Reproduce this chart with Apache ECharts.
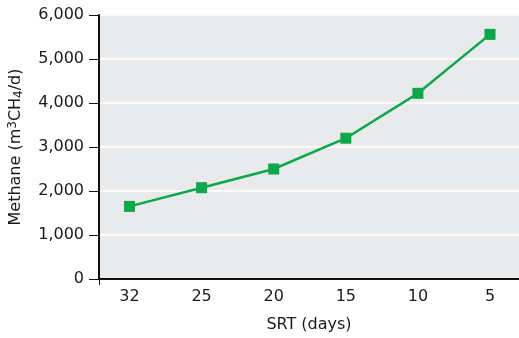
<!DOCTYPE html>
<html>
<head>
<meta charset="utf-8">
<script src="https://cdn.jsdelivr.net/npm/echarts@6/dist/echarts.min.js"></script>
<style>html,body{margin:0;padding:0;background:#fff}#c{width:519px;height:338px}</style>
</head>
<body>
<div id="c"></div>
<script>
var categories = ['32', '25', '20', '15', '10', '5'];
var methane = [1650, 2075, 2500, 3200, 4220, 5560];
var yTicks = [0, 1000, 2000, 3000, 4000, 5000, 6000];

var FONT = 'DejaVu Sans';
var chart = echarts.init(document.getElementById('c'), null, {renderer: 'canvas'});
var xMin = -0.423, xMax = 5.402;
var idx = categories.map(function (c, i) { return i; });
chart.setOption({
  animation: false,
  grid: {left: 99, right: 0, top: 15, bottom: 59, show: true, backgroundColor: '#e9eaeb', borderWidth: 0, containLabel: false, outerBoundsMode: 'none'},
  xAxis: {
    type: 'value', min: xMin, max: xMax,
    name: 'SRT (days)', nameLocation: 'middle', nameGap: 38,
    nameTextStyle: {fontFamily: FONT, fontSize: 16, color: '#1a1a1a'},
    axisLine: {show: true, onZero: false, lineStyle: {color: '#111', width: 2}},
    axisTick: {show: true, customValues: [xMin], length: 6, lineStyle: {color: '#111', width: 1}},
    axisLabel: {customValues: idx, margin: 10, fontFamily: FONT, fontSize: 16, color: '#1a1a1a',
      formatter: function (v) { return categories[Math.round(v)]; }},
    splitLine: {show: false}
  },
  yAxis: {
    type: 'value', min: yTicks[0], max: yTicks[yTicks.length - 1], interval: 1000,
    name: 'Methane (m{sup|3}CH{sub|4}/d)', nameLocation: 'middle', nameGap: 74,
    nameTextStyle: {fontFamily: FONT, fontSize: 16, color: '#1a1a1a',
      rich: {
        sup: {fontFamily: FONT, fontSize: 12, color: '#1a1a1a', verticalAlign: 'top', padding: [0, 0, 6, 0]},
        sub: {fontFamily: FONT, fontSize: 12, color: '#1a1a1a', verticalAlign: 'bottom', padding: [6, 0, 0, 0]}
      }},
    axisLine: {show: true, onZero: false, lineStyle: {color: '#111', width: 2}},
    axisTick: {show: true, length: 10, lineStyle: {color: '#111', width: 1}},
    axisLabel: {margin: 15, fontFamily: FONT, fontSize: 16, color: '#1a1a1a',
      formatter: function (v) { return v.toLocaleString('en-US'); }},
    splitLine: {show: true, lineStyle: {color: '#ffffff', width: 1.5}}
  },
  series: [{
    type: 'line',
    data: methane.map(function (v, i) { return [idx[i], v]; }),
    symbol: 'rect', symbolSize: 11,
    lineStyle: {color: '#0ca74b', width: 2.5},
    itemStyle: {color: '#0ca74b'}
  }]
});
</script>
</body>
</html>
